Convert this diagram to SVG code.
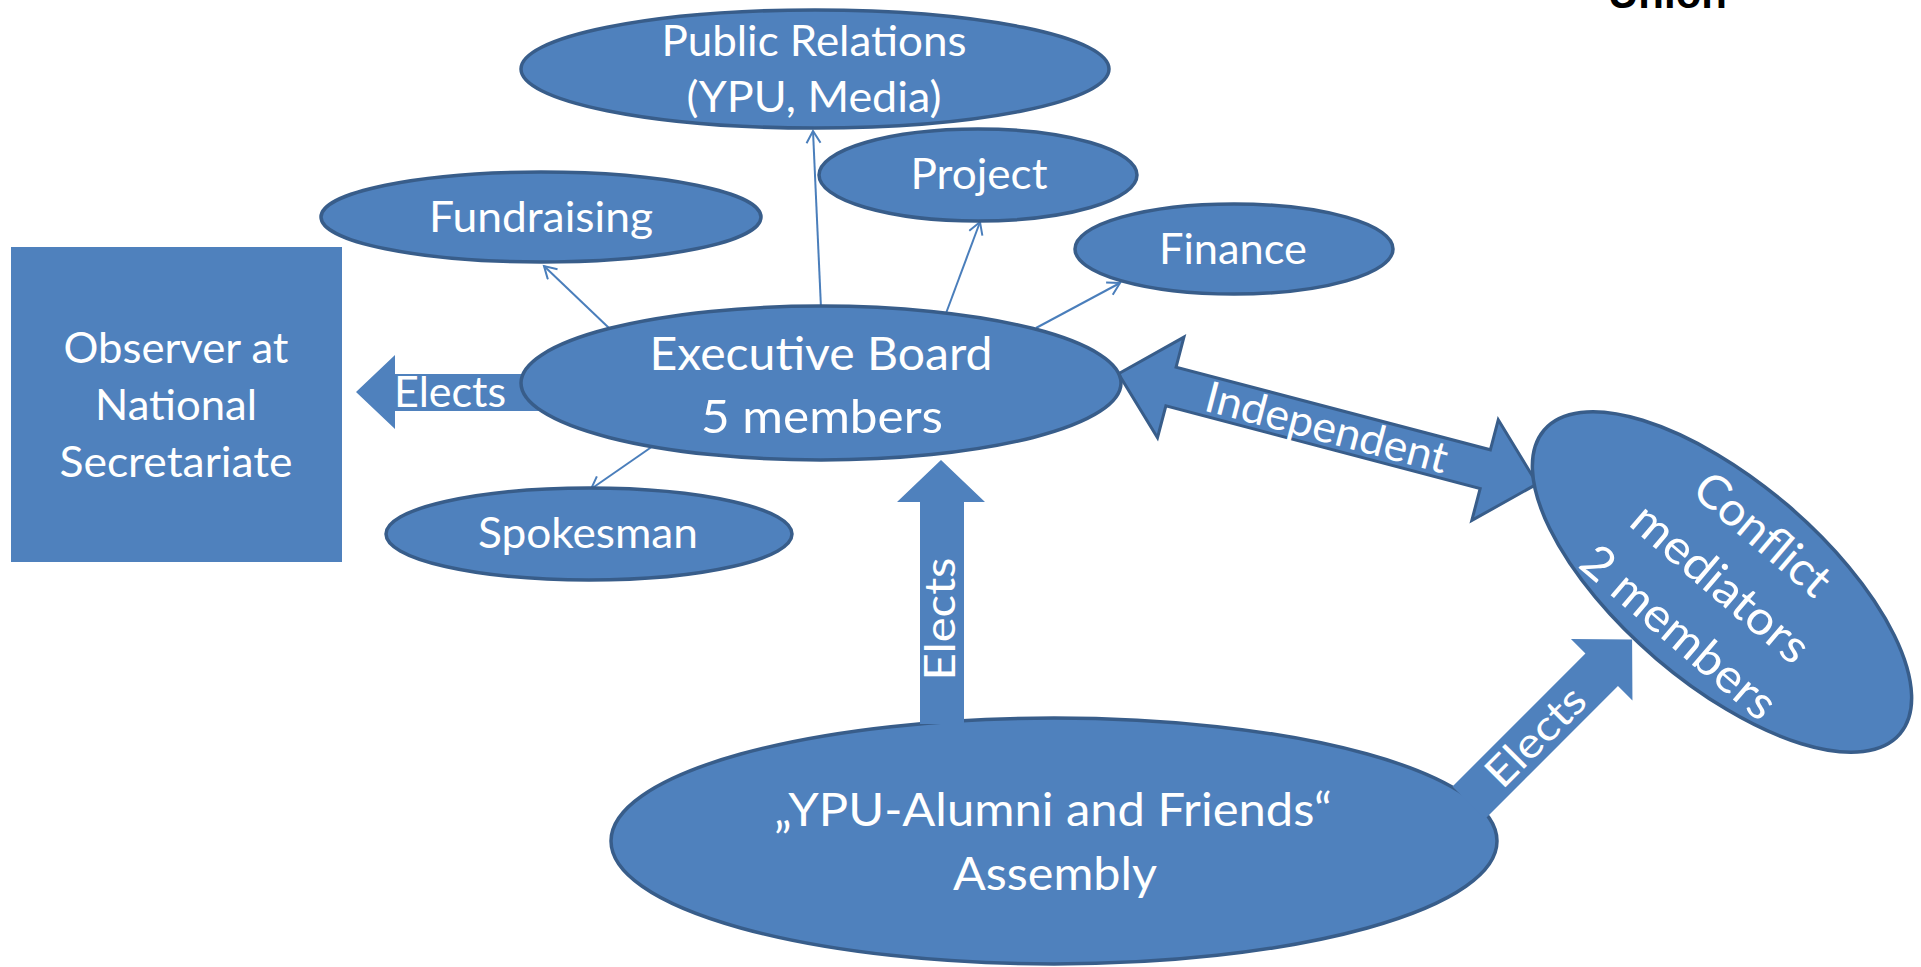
<svg xmlns="http://www.w3.org/2000/svg" width="1921" height="967" viewBox="0 0 1921 967">
<defs>
<style>
.n{fill:#4F81BD;stroke:#385D8A;stroke-width:3.5}
.r{fill:#4F81BD}
.t{font-family:Lato,"Open Sans","Liberation Sans",sans-serif;fill:#FFFFFF;text-anchor:middle}
.s42{font-size:42px}
.s47{font-size:47px}
.ln{stroke:#4A7EBB;stroke-width:2;fill:none;marker-end:url(#oa)}
.ba{fill:#4F81BD}
.bo{fill:#4F81BD;stroke:#385D8A;stroke-width:3;stroke-linejoin:miter}
</style>
<marker id="oa" markerUnits="userSpaceOnUse" markerWidth="18" markerHeight="18" refX="14" refY="8" orient="auto">
<path d="M2,1 L14,8 L2,15" fill="none" stroke="#4A7EBB" stroke-width="2"/>
</marker>
</defs>
<rect width="1921" height="967" fill="#FFFFFF"/>
<text x="1608" y="8" font-family="Liberation Sans,Arial,sans-serif" font-weight="bold" font-size="42" fill="#000000">Union</text>

<g id="assembly">
<ellipse class="n" cx="1054" cy="841" rx="443" ry="123"/>
<text class="t s47" x="1053" y="826" textLength="558" lengthAdjust="spacingAndGlyphs">„YPU-Alumni and Friends“</text>
<text class="t s47" x="1055" y="890" textLength="204" lengthAdjust="spacingAndGlyphs">Assembly</text>
</g>

<g id="connectors">
<line class="ln" x1="609" y1="328" x2="544" y2="266"/>
<line class="ln" x1="821" y1="308" x2="813" y2="131"/>
<line class="ln" x1="945" y1="316" x2="980" y2="222"/>
<line class="ln" x1="1036" y1="328" x2="1120" y2="283"/>
<line class="ln" x1="653" y1="446" x2="591" y2="489"/>
<g id="elects-left">
<path class="ba" d="M356,392 L395,355 L395,374 L545,374 L545,411 L395,411 L395,429 Z"/>
<text class="t s42" x="450" y="407" textLength="112" lengthAdjust="spacingAndGlyphs">Elects</text>
</g>
<g id="elects-up">
<path class="ba" d="M941,460 L985,502 L964,502 L964,724 L920,724 L920,502 L897,502 Z"/>
<text class="t s42" transform="translate(941,619) rotate(-90)" x="0" y="14" textLength="123" lengthAdjust="spacingAndGlyphs">Elects</text>
</g>
<g id="elects-diag" transform="translate(1473,798.5) rotate(-45)">
<path class="ba" d="M-6,-23 L182,-23 L182,-43.5 L225,0 L182,43.5 L182,23 L-6,23 Z"/>
<text class="t s42" x="88" y="15" textLength="123" lengthAdjust="spacingAndGlyphs">Elects</text>
</g>
<g id="independent" transform="translate(1118.5,373.7) rotate(14.74)">
<path class="bo" d="M0,0 L54,-52 L54,-21 L379,-21 L379,-52 L433,0 L379,52 L379,19 L54,19 L54,52 Z"/>
<text class="t" font-size="43" x="215" y="14" textLength="249" lengthAdjust="spacingAndGlyphs">Independent</text>
</g>
</g>

<g id="public-relations">
<ellipse class="n" cx="815" cy="69" rx="294" ry="59"/>
<text class="t s42" x="814" y="56" textLength="305" lengthAdjust="spacingAndGlyphs">Public Relations</text>
<text class="t s42" x="814" y="112" textLength="255" lengthAdjust="spacingAndGlyphs">(YPU, Media)</text>
</g>
<g id="project">
<ellipse class="n" cx="978" cy="175" rx="159" ry="46"/>
<text class="t s42" x="979" y="189" textLength="137" lengthAdjust="spacingAndGlyphs">Project</text>
</g>
<g id="fundraising">
<ellipse class="n" cx="541" cy="217" rx="220" ry="45"/>
<text class="t s42" x="541" y="232" textLength="224" lengthAdjust="spacingAndGlyphs">Fundraising</text>
</g>
<g id="finance">
<ellipse class="n" cx="1234" cy="249" rx="159" ry="45"/>
<text class="t s42" x="1233" y="264" textLength="148" lengthAdjust="spacingAndGlyphs">Finance</text>
</g>
<g id="observer">
<rect class="r" x="11" y="247" width="331" height="315"/>
<text class="t s42" x="176" y="363" textLength="225" lengthAdjust="spacingAndGlyphs">Observer at</text>
<text class="t s42" x="176" y="420" textLength="162" lengthAdjust="spacingAndGlyphs">National</text>
<text class="t s42" x="176" y="477" textLength="233" lengthAdjust="spacingAndGlyphs">Secretariate</text>
</g>
<g id="executive-board">
<ellipse class="n" cx="821" cy="383" rx="300" ry="77"/>
<text class="t s47" x="821" y="370" textLength="343" lengthAdjust="spacingAndGlyphs">Executive Board</text>
<text class="t s47" x="822" y="433" textLength="242" lengthAdjust="spacingAndGlyphs">5 members</text>
</g>
<g id="spokesman">
<ellipse class="n" cx="589" cy="534" rx="203" ry="46"/>
<text class="t s42" x="588" y="548" textLength="220" lengthAdjust="spacingAndGlyphs">Spokesman</text>
</g>
<g id="conflict-mediators">
<ellipse class="n" cx="1722" cy="582" rx="234" ry="101" transform="rotate(40.5 1722 582)"/>
<text class="t s47" transform="translate(1762,535) rotate(40.5)" x="0" y="15" textLength="164" lengthAdjust="spacingAndGlyphs">Conflict</text>
<text class="t s47" transform="translate(1720,584) rotate(40.5)" x="0" y="15" textLength="218" lengthAdjust="spacingAndGlyphs">mediators</text>
<text class="t s47" transform="translate(1678,633) rotate(40.5)" x="0" y="15" textLength="241" lengthAdjust="spacingAndGlyphs">2 members</text>
</g>
</svg>
